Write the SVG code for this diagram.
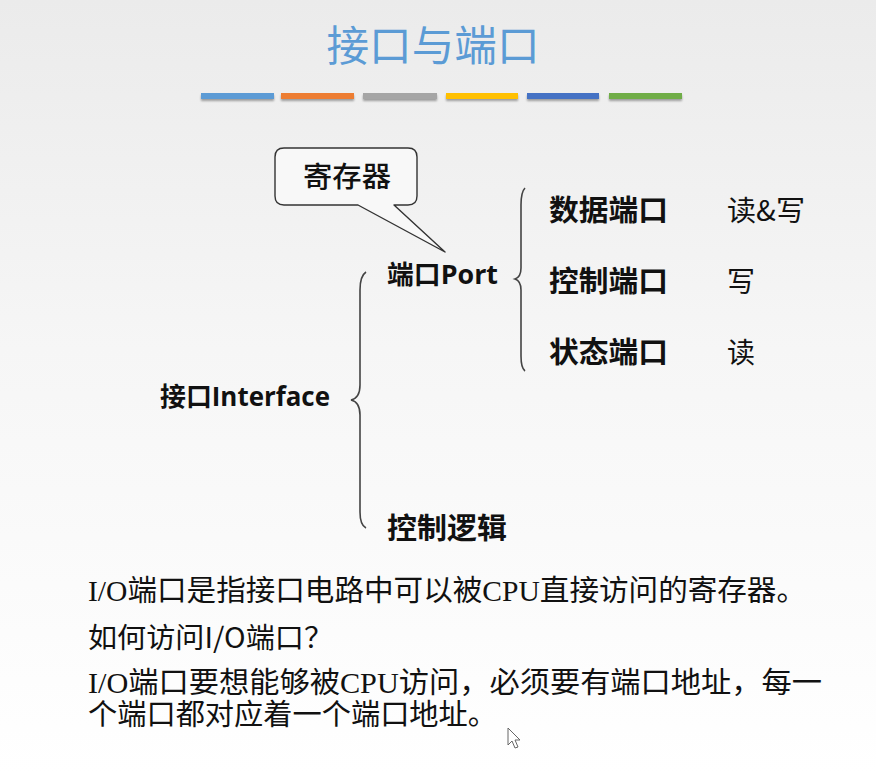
<svg xmlns="http://www.w3.org/2000/svg" width="876" height="774" viewBox="0 0 876 774">
<defs>
<linearGradient id="bg" x1="0" y1="0" x2="0" y2="1">
<stop offset="0" stop-color="#ebebeb"/>
<stop offset="0.45" stop-color="#f6f6f6"/>
<stop offset="1" stop-color="#ffffff"/>
</linearGradient>
<filter id="sh" x="-10%" y="-100%" width="120%" height="300%">
<feGaussianBlur in="SourceAlpha" stdDeviation="1.2"/>
<feOffset dx="0" dy="2" result="b"/>
<feComponentTransfer><feFuncA type="linear" slope="0.35"/></feComponentTransfer>
<feMerge><feMergeNode/><feMergeNode in="SourceGraphic"/></feMerge>
</filter>
</defs>
<style>
.cjk{font-family:"Noto Sans CJK SC","Noto Sans",sans-serif;fill:#111}
.b{font-weight:bold}
.lat{font-family:"Open Sans","Noto Sans CJK SC",sans-serif;font-weight:bold}
.ser{font-family:"Liberation Serif","Noto Sans CJK SC",serif;fill:#111;font-size:29px}
.brace{fill:none;stroke:#444;stroke-width:1.6}
</style>
<rect x="0" y="0" width="876" height="774" fill="url(#bg)"/>
<g id="title">
<text x="433" y="61" text-anchor="middle" class="cjk" style="font-size:42px;fill:#5b9bd5" textLength="213" lengthAdjust="spacingAndGlyphs">接口与端口</text>
<g filter="url(#sh)">
<rect x="201" y="93" width="73" height="6" fill="#5b9bd5"/>
<rect x="281" y="93" width="73" height="6" fill="#ed7d31"/>
<rect x="363" y="93" width="74" height="6" fill="#a5a5a5"/>
<rect x="446" y="93" width="72" height="6" fill="#ffc000"/>
<rect x="527" y="93" width="72" height="6" fill="#4472c4"/>
<rect x="609" y="93" width="73" height="6" fill="#70ad47"/>
</g>
</g>
<g id="connectors">
<path class="brace" d="M366,272 Q360,276 360,290 L360,385 Q360,398 351,400 Q360,402 360,415 L360,512 Q360,525 366,528"/>
<path class="brace" d="M525,188 Q521,192 521,205 L521,268 Q521,277 515,279 Q521,281 521,290 L521,356 Q521,368 525,371"/>
</g>
<g id="callout">
<path d="M285,148 L408,148 Q417,148 417,157 L417,196 Q417,205 408,205 L394,205 L445,252 L358,205 L284,205 Q275,205 275,196 L275,157 Q275,148 284,148 Z" fill="#f8f8f8" stroke="#333" stroke-width="1.4" stroke-linejoin="round"/>
<text x="303" y="187" class="cjk" style="font-size:28px;font-weight:500" textLength="88" lengthAdjust="spacingAndGlyphs">寄存器</text>
</g>
<g id="interface">
<text x="160" y="406" class="cjk b" style="font-size:26px" textLength="170" lengthAdjust="spacingAndGlyphs"><tspan>接口</tspan><tspan class="lat" style="font-size:26px">Interface</tspan></text>
</g>
<g id="port">
<text x="387" y="284" class="cjk b" style="font-size:26px" textLength="111" lengthAdjust="spacingAndGlyphs"><tspan>端口</tspan><tspan class="lat" style="font-size:26px">Port</tspan></text>
</g>
<g id="ctrl-logic">
<text x="387" y="539" class="cjk b" style="font-size:29px" textLength="120" lengthAdjust="spacingAndGlyphs">控制逻辑</text>
</g>
<g id="data-port">
<text x="549" y="221" class="cjk b" style="font-size:29px" textLength="119" lengthAdjust="spacingAndGlyphs">数据端口</text>
<text x="727" y="221" class="cjk" style="font-size:28px" textLength="78" lengthAdjust="spacingAndGlyphs">读&amp;写</text>
</g>
<g id="ctrl-port">
<text x="549" y="292" class="cjk b" style="font-size:29px" textLength="119" lengthAdjust="spacingAndGlyphs">控制端口</text>
<text x="727" y="292" class="cjk" style="font-size:28px">写</text>
</g>
<g id="status-port">
<text x="549" y="363" class="cjk b" style="font-size:29px" textLength="119" lengthAdjust="spacingAndGlyphs">状态端口</text>
<text x="727" y="363" class="cjk" style="font-size:28px">读</text>
</g>
<g id="notes">
<text x="88" y="601" class="ser" textLength="718" lengthAdjust="spacingAndGlyphs">I/O端口是指接口电路中可以被CPU直接访问的寄存器。</text>
<text x="88" y="648" class="cjk" style="font-size:28px" textLength="245" lengthAdjust="spacingAndGlyphs">如何访问I/O端口？</text>
<text x="88" y="693" class="ser" textLength="734" lengthAdjust="spacingAndGlyphs">I/O端口要想能够被CPU访问，必须要有端口地址，每一</text>
<text x="88" y="725" class="ser" textLength="409" lengthAdjust="spacingAndGlyphs">个端口都对应着一个端口地址。</text>
</g>
<path d="M508,728 L508,745 L512,741 L515,748 L518,747 L515,740 L520,740 Z" fill="#fff" stroke="#666" stroke-width="1"/>
</svg>
